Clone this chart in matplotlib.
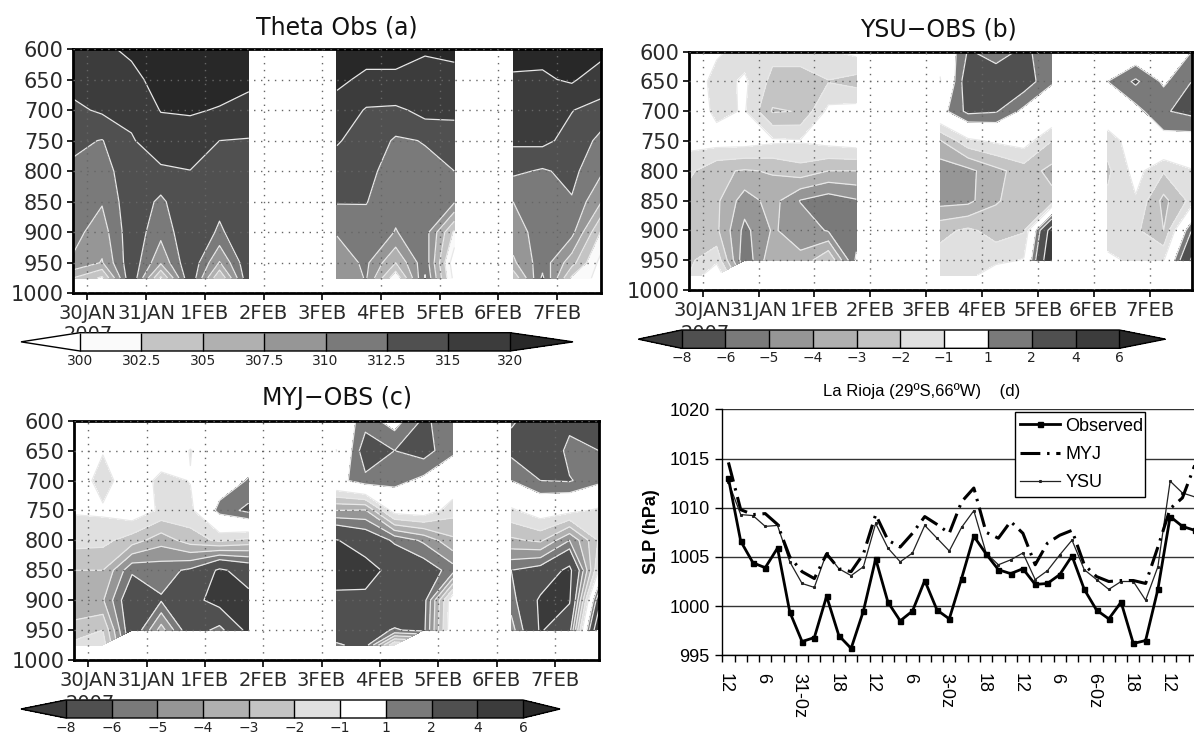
import matplotlib
matplotlib.use('Agg')
import matplotlib.pyplot as plt
import numpy as np
from matplotlib.colors import ListedColormap, BoundaryNorm
from matplotlib.transforms import Bbox, TransformedBbox

W, H = 1194, 733
N = np.nan

# grid of the three sections: 12-hourly columns, gaps where there are no soundings
col_days = [-0.25, 0.25, 0.75, 1.25, 1.75, 2.25, 2.75, 4.25, 4.75, 5.25, 5.75, 6.25, 7.25, 7.75, 8.25, 8.75]
pressure = [600, 650, 700, 750, 800, 850, 900, 950, 975]
day_labels = ['30JAN', '31JAN', '1FEB', '2FEB', '3FEB', '4FEB', '5FEB', '6FEB', '7FEB']
p_ticks = [600, 650, 700, 750, 800, 850, 900, 950, 1000]

# one inner list per column, top to bottom
theta_obs = [
    [318, 316, 314.4, 313, 312.1, 311.5, 310.8, 309.7, 305],
    [319, 317, 315.4, 312.4, 311.3, 310.2, 308.8, 307.3, 302],
    [321, 318.5, 316.2, 314.6, 314.3, 314.2, 314.2, 314.4, 314.9],
    [324, 322, 320.2, 317.5, 314.3, 312, 310.8, 307.9, 302],
    [325, 322.5, 320.5, 317.8, 314.9, 314.7, 314.6, 314.8, 314.9],
    [324, 322, 319.7, 315, 313.9, 313.2, 312.1, 307.3, 302.5],
    [323, 321, 318.5, 314.7, 314.4, 314.3, 314.4, 314.8, 314.9],
    [324, 321, 318.2, 315.2, 314, 312.7, 310.2, 308.6, 308],
    [322, 319, 314.6, 314, 313.3, 312.6, 311.5, 310.5, 310.2],
    [322, 319, 314.3, 312.2, 311.2, 310.6, 309.9, 305, 300.5],
    [320.6, 318, 316, 312.6, 312, 311.6, 311.2, 311.8, 312.7],
    [321, 318.7, 315.5, 314, 312.5, 310.3, 302, 298, 299],
    [321.5, 319.5, 317, 315.5, 313, 310, 309, 307, 303],
    [321.5, 319.3, 317.5, 315.7, 312.2, 311.5, 311, 311.5, 313],
    [324, 320.7, 315.1, 314, 313.2, 312.3, 310.8, 306, 302],
    [322, 317, 313.8, 311.9, 310.4, 307.6, 302.2, 299, 299],
]
ysu_obs = [
    [0, 0, 0, -0.6, -1.75, -2.5, -2.6, -2.2, -2],
    [-0.8, -1.5, -1.3, -0.5, -2.8, -2.8, -2.8, -1.3, 0],
    [-1.5, -0.8, -0.9, -0.5, -3.1, -4.5, -5.3, -5.8, N],
    [-1.7, -2.3, -3.1, -0.8, -2.9, -3.6, -3.9, -3.2, N],
    [-1.7, -2.3, -2.95, -0.9, -2.4, -5.05, -4.4, -3.8, N],
    [-1.1, -2.05, -0.7, -0.6, -3, -5.6, -5.1, -2, N],
    [-0.7, -2.4, -0.5, -0.4, -3, -5.1, -5.5, -6.2, N],
    [-0.5, -1.1, 0.5, -3.1, -4.6, -4.4, -2.3, -1.6, -1.6],
    [2.1, 2.9, 2.3, -1.3, -4.3, -4.3, -1.8, -1.3, -1.5],
    [1.6, 2.6, 2.1, -0.8, -3.3, -3.1, -2.4, -1.4, 0],
    [2.2, 2.7, 0.7, -0.5, -2.5, -2.5, -2.1, -0.9, N],
    [1.5, 1.1, 0.2, -2, -3.3, -2.7, 5, 6, N],
    [0, 1, 0, -1.6, -2.2, -1.8, -1.5, -0.8, N],
    [0, 2.2, 0.6, -0.3, -0.6, -1.1, -1.8, -1.2, N],
    [0.5, 0.8, 1.9, 0.5, -1.9, -3.3, -3, -1.1, N],
    [1, 2, 2.3, 0.4, -1.1, -1.7, 2, 4.2, N],
]
myj_obs = [
    [0, 0, 0, -0.9, -1.6, -3, -3.6, -2.7, -1.7],
    [0, -0.9, -1.6, -0.8, -1.7, -3, -3.9, -2, -1.5],
    [0, 0, 0, -0.2, -2.5, -5.8, -7.2, -7.2, N],
    [0, 0, -1.4, -1.2, -3.6, -5.6, -6.1, -3.5, N],
    [0, -1.05, -0.95, -1.3, -2.5, -6.2, -7.3, -7, N],
    [0, 0, 0.2, 1.4, -1.8, -8.3, -8.8, -5.5, N],
    [0, 0.2, 1.1, 2.3, -2.3, -7.2, -8.5, -8.6, N],
    [0, -1.05, 0.5, -4, -8.1, -9, -7.5, -7, -5.8],
    [1.5, 2.8, 1.7, -4.1, -7.1, -8.7, -7.6, -6.5, -6.5],
    [0.5, 2, 1.4, -0.4, -5.8, -7.4, -7.2, -5.9, -1],
    [2.2, 2.5, 0.7, -0.2, -4.8, -6.8, -6.5, -6.3, N],
    [1.4, 1.2, 0, -1.6, -3.2, -5.5, 0, 0.2, N],
    [1.9, 2.3, 1, -1.2, -3.2, -6, -5.5, -4.5, N],
    [2.4, 3.9, 2, -0.3, -2.8, -6.6, -8.3, -8.2, N],
    [2.5, 1.5, 2.1, -0.6, -5, -8.5, -8.2, -6.5, N],
    [2.3, 2, 1.3, -1.2, -1.9, -1, 3, 6, N],
]

theta_levels = [300, 302.5, 305, 307.5, 310, 312.5, 315, 320]
theta_labels = ['300', '302.5', '305', '307.5', '310', '312.5', '315', '320']
theta_colors = ['#ffffff', '#fafafa', '#c4c4c4', '#b0b0b0', '#969696', '#7a7a7a', '#505050', '#3c3c3c', '#282828']
diff_levels = [-8, -6, -5, -4, -3, -2, -1, 1, 2, 4, 6]
diff_labels = ['\u22128', '\u22126', '\u22125', '\u22124', '\u22123', '\u22122', '\u22121', '1', '2', '4', '6']
diff_colors = ['#3a3a3a', '#505050', '#7a7a7a', '#969696', '#b0b0b0', '#c4c4c4', '#e0e0e0', '#ffffff',
               '#7a7a7a', '#505050', '#3c3c3c', '#282828']

# surface pressure at La Rioja, every 6 h
slp_obs = [1013.0, 1006.6, 1004.4, 1003.9, 1005.9, 999.4, 996.4, 996.8, 1001.0, 997.0, 995.7, 999.5, 1004.8,
           1000.4, 998.5, 999.5, 1002.6, 999.6, 998.7, 1002.8, 1007.1, 1005.3, 1003.7, 1003.3, 1003.8, 1002.2,
           1002.3, 1003.2, 1005.1, 1001.7, 999.6, 998.7, 1000.4, 996.2, 996.5, 1001.7, 1009.1, 1008.1, 1007.7]
slp_myj = [1014.6, 1009.8, 1009.3, 1009.4, 1008.3, 1005.0, 1003.5, 1002.8, 1005.3, 1003.8, 1003.5, 1005.3, 1009.3,
           1006.7, 1006.0, 1007.4, 1009.1, 1008.3, 1007.4, 1010.6, 1012.0, 1007.5, 1006.9, 1008.6, 1007.4, 1004.2,
           1006.4, 1007.2, 1007.7, 1004.2, 1003.0, 1002.5, 1002.6, 1002.6, 1002.3, 1006.0, 1009.9, 1011.0, 1014.3]
slp_ysu = [1012.6, 1009.3, 1009.2, 1008.1, 1008.2, 1004.5, 1002.3, 1001.9, 1005.4, 1003.8, 1003.1, 1004.0, 1008.4,
           1005.9, 1004.5, 1005.4, 1008.2, 1006.9, 1005.6, 1008.0, 1009.7, 1005.4, 1004.2, 1004.7, 1005.4, 1002.7,
           1003.6, 1005.2, 1006.7, 1003.7, 1002.7, 1001.7, 1002.5, 1002.5, 1000.6, 1004.0, 1012.7, 1011.5, 1011.1]
hour_labels = ['12', '6', '31-0z', '18', '12', '6', '3-0z', '18', '12', '6', '6-0z', '18', '12']

fig = plt.figure(figsize=(W / 100, H / 100), dpi=100, facecolor='white')


def px_axes(left, top, right, bottom):
    return fig.add_axes([left / W, 1 - bottom / H, (right - left) / W, (bottom - top) / H])


def section(box, values, levels, colors, title, title_xy, bar_box, bar_ext, bar_labels, year_xy):
    ax = px_axes(*box)
    cmap = ListedColormap(colors[1:-1])
    cmap.set_under(colors[0])
    cmap.set_over(colors[-1])
    norm = BoundaryNorm(levels, len(colors) - 2)
    z = np.array(values, dtype=float).T
    days = np.array(col_days)
    breaks = np.where(np.diff(days) > 0.6)[0] + 1
    cs = None
    for part_x, part_z in zip(np.split(days, breaks), np.split(z, breaks, axis=1)):
        cs = ax.contourf(part_x, pressure, np.ma.masked_invalid(part_z), levels=levels, cmap=cmap, norm=norm,
                         extend='both', zorder=1)
        ax.contour(part_x, pressure, np.ma.masked_invalid(part_z), levels=levels, colors='#e8e8e8',
                   linewidths=0.9, linestyles='solid', zorder=2)
    ax.set_xlim(-0.25, 8.75)
    ax.set_ylim(1000, 600)
    ax.set_xticks(range(len(day_labels)))
    ax.set_xticklabels(day_labels)
    ax.set_yticks(p_ticks)
    ax.tick_params(axis='x', labelsize=14, labelcolor='#2a2a2a', width=1.2, length=5, pad=3)
    ax.tick_params(axis='y', labelsize=15, labelcolor='#2a2a2a', width=1.2, length=4.5, pad=2)
    ax.set_axisbelow(False)
    ax.grid(True, color='#666666', linestyle=(0, (1, 4)), linewidth=1)
    for sp in ax.spines.values():
        sp.set_linewidth(2)
    fig.text(title_xy[0] / W, 1 - title_xy[1] / H, title, fontsize=17, ha='center', va='center', color='#111111')

    # year label, mostly hidden by the colour bar as in the original
    year = fig.text(year_xy[0] / W, 1 - year_xy[1] / H, '2007', fontsize=14, ha='center', va='top', color='#2a2a2a')
    year.set_clip_box(TransformedBbox(Bbox([[0, 1 - bar_box[1] / H], [1, 1]]), fig.transFigure))
    year.set_clip_on(True)

    # the box holds the arrows too, matplotlib shrinks the inner bar
    cax = px_axes(*bar_box)
    cb = fig.colorbar(cs, cax=cax, orientation='horizontal', extend='both', extendfrac=bar_ext,
                      spacing='uniform', drawedges=True, ticks=levels)
    cb.set_ticklabels(bar_labels)
    cb.ax.tick_params(length=0, labelsize=10, pad=2, labelcolor='#222222')
    cb.outline.set_linewidth(1)
    cb.dividers.set_linewidth(1)
    return ax


section((72.7, 49, 601.2, 293.3), theta_obs, theta_levels, theta_colors, 'Theta Obs (a)', (337, 27),
        (21, 332.7, 573, 351), (0.137, 0.147), theta_labels, (88, 325))
section((688.7, 51.7, 1191.5, 290), ysu_obs, diff_levels, diff_colors, 'YSU\u2212OBS (b)', (938, 29),
        (638.3, 330, 1165.4, 348.3), (0.0989, 0.1053), diff_labels, (705, 324))
section((73.7, 420.7, 598.7, 660), myj_obs, diff_levels, diff_colors, 'MYJ\u2212OBS (c)', (337, 398),
        (21, 700, 560, 718), (0.098, 0.081), diff_labels, (90, 694))

# panel d: the axis runs off the right edge of the picture
ax4 = px_axes(722.3, 409.3, 1194, 655.3)
xs = np.arange(len(slp_obs))
ax4.plot(xs, slp_ysu, color='#222222', linewidth=0.9, marker='s', markersize=1.2, label='YSU', zorder=3)
ax4.plot(xs, slp_myj, color='black', linewidth=2.2, linestyle=(0, (6.5, 2.2, 0.8, 2.2)), label='MYJ', zorder=4)
ax4.plot(xs, slp_obs, color='black', linewidth=2.0, marker='s', markersize=3.6, label='Observed', zorder=5)
ax4.set_xlim(-0.5, (1194 - 722.3) / 12.27 - 0.5)
ax4.set_ylim(995, 1020)
ax4.set_yticks([995, 1000, 1005, 1010, 1015, 1020])
ax4.set_xticks(np.arange(-0.5, 38.5), minor=True)
ax4.set_xticks(np.arange(0, 37, 3) - 0.25)
ax4.set_xticklabels(hour_labels, rotation=270, fontfamily='Liberation Sans')
ax4.tick_params(axis='x', which='major', length=0, pad=13, labelsize=13)
ax4.tick_params(axis='x', which='minor', length=5, width=1)
ax4.tick_params(axis='y', length=5, width=1, pad=4)
for lab in ax4.get_yticklabels():
    lab.set_fontfamily('Liberation Sans')
    lab.set_fontsize(13)
ax4.grid(True, axis='y', color='#333333', linewidth=1)
ax4.set_axisbelow(True)
ax4.spines['top'].set_visible(False)
ax4.spines['right'].set_visible(False)
ax4.spines['left'].set_linewidth(1)
ax4.spines['bottom'].set_linewidth(1)
fig.text(652 / W, 1 - 532 / H, 'SLP (hPa)', rotation=90, fontsize=13, fontweight='bold', family='Liberation Sans',
         ha='center', va='center')
fig.text(922 / W, 1 - 391 / H, 'La Rioja (29\u00baS,66\u00baW)    (d)', fontsize=12, family='Liberation Sans',
         ha='center', va='center')

handles, labels = ax4.get_legend_handles_labels()
leg_top = 1 - (412.3 - 409.3) / 246
leg = ax4.legend(handles[::-1], labels[::-1], loc='upper left',
                 bbox_to_anchor=((1014.6 - 722.3) / (1194 - 722.3), leg_top - 0.354,
                                 (1144.6 - 1014.6) / (1194 - 722.3), 0.354),
                 mode='expand', borderaxespad=0, fancybox=False, framealpha=1, edgecolor='black',
                 prop={'family': 'Liberation Sans', 'size': 13}, labelspacing=0.63, handlelength=2.2,
                 handletextpad=0.3, borderpad=0.3)
leg.set_zorder(6)
leg.get_frame().set_linewidth(1)

fig.savefig('out.png', dpi=100)
